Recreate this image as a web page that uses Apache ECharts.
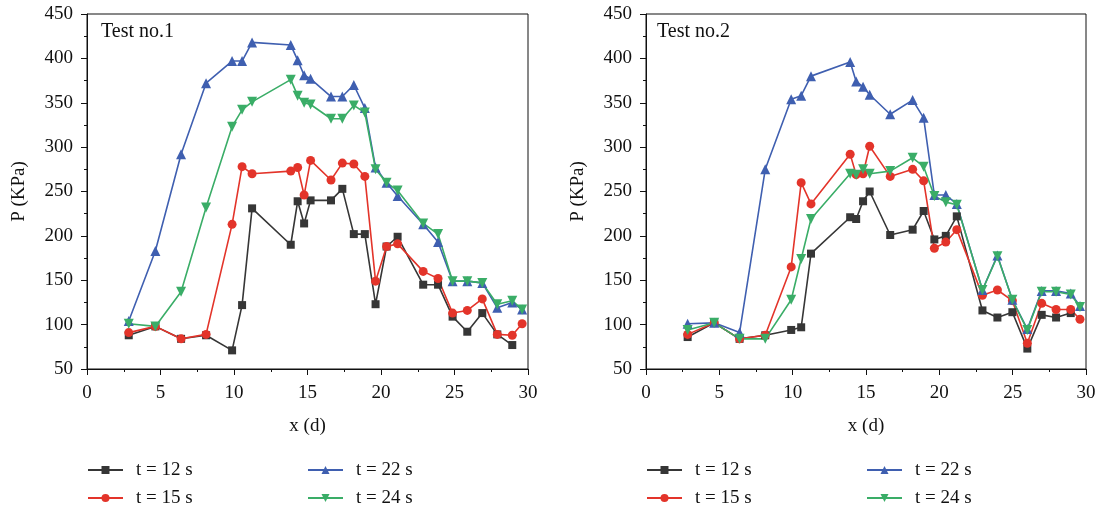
<!DOCTYPE html>
<html>
<head>
<meta charset="utf-8">
<script src="https://cdn.jsdelivr.net/npm/echarts@6/dist/echarts.min.js"></script>
<style>
  html, body { margin: 0; padding: 0; background: #fff; }
  #main { width: 1100px; height: 507px; }
</style>
</head>
<body>
<div id="main"></div>
<script>
// Test no.1 数据
var xTest1 = [2.84, 4.65, 6.4, 8.1, 9.87, 10.55, 11.23, 13.86, 14.33, 14.77, 15.21, 16.6, 17.37, 18.15, 18.9, 19.63, 20.38, 21.13, 22.87, 23.88, 24.87, 25.87, 26.89, 27.91, 28.93, 29.6];
var p12Test1 = [88, 98, 84, 88, 71, 122, 231, 190, 239, 214, 240, 240, 253, 202, 202, 123, 188, 199, 145, 145, 109, 92, 113, 89, 77, null];
var p15Test1 = [91, 98, 84, 89, 213, 278, 270, 273, 277, 246, 285, 263, 282, 281, 267, 149, 188, 191, 160, 152, 113, 116, 129, 89, 88, 101];
var p22Test1 = [104, 183, 292, 372, 397, 397, 418, 415, 398, 381, 377, 357, 357, 370, 344, 277, 260, 245, 213, 193, 149, 149, 147, 119, 125, 117];
var p24Test1 = [101, 98, 137, 232, 323, 342, 351, 376, 358, 350, 348, 332, 332, 347, 339, 275, 260, 251, 214, 202, 149, 149, 147, 123, 127, 117];

// Test no.2 数据
var xTest2 = [2.84, 4.65, 6.38, 8.13, 9.9, 10.58, 11.25, 13.92, 14.33, 14.8, 15.25, 16.65, 18.18, 18.93, 19.66, 20.44, 21.19, 22.94, 23.96, 24.98, 26.0, 26.98, 27.96, 28.96, 29.59];
var p12Test2 = [86, 102, 84, 88, 94, 97, 180, 221, 219, 239, 250, 201, 207, 228, 196, 200, 222, 116, 108, 114, 73, 111, 108, 113, null];
var p15Test2 = [89, 102, 84, 88, 165, 260, 236, 292, 269, 270, 301, 267, 275, 262, 186, 193, 207, 133, 139, 127, 79, 124, 117, 117, 106];
var p22Test2 = [101, 102, 91, 275, 354, 358, 380, 396, 374, 368, 359, 337, 353, 333, 246, 246, 236, 139, 178, 128, 95, 138, 138, 135, 121];
var p24Test2 = [94, 102, 84, 84, 128, 174, 219, 270, 269, 275, 270, 273, 288, 278, 245, 238, 235, 139, 177, 128, 94, 137, 137, 134, 120];

var seriesNames = ['t = 12 s', 't = 15 s', 't = 22 s', 't = 24 s'];
var xTicks = [0, 30, 5];      // min, max, interval
var yTicks = [50, 450, 50];

var font = '"Liberation Serif", "DejaVu Serif", serif';
var colors = ['#363636', '#e3342a', '#3f5fb0', '#3aad67'];
var symbols = ['rect', 'circle', 'triangle', 'path://M0,0 L10,0 L5,9 Z'];
var sizes = [8, 9, 10, 10];

function pairs(xs, ys) {
    var out = [];
    for (var i = 0; i < xs.length; i++) {
        out.push([xs[i], ys[i]]);
    }
    return out;
}

function makeX(idx) {
    return {
        type: 'value', gridIndex: idx,
        min: xTicks[0], max: xTicks[1], interval: xTicks[2],
        name: 'x (d)', nameLocation: 'middle', nameGap: 48,
        nameTextStyle: { fontFamily: font, fontSize: 19, color: '#111' },
        axisLine: { lineStyle: { color: '#111', width: 1 } },
        axisTick: { length: 6, lineStyle: { color: '#111' } },
        minorTick: { show: true, splitNumber: 2, length: 3, lineStyle: { color: '#111' } },
        axisLabel: { fontFamily: font, fontSize: 19, color: '#111', margin: 15 },
        splitLine: { show: false }
    };
}

function makeY(idx) {
    return {
        type: 'value', gridIndex: idx,
        min: yTicks[0], max: yTicks[1], interval: yTicks[2],
        name: 'P (KPa)', nameLocation: 'middle', nameGap: 58,
        nameTextStyle: { fontFamily: font, fontSize: 19, color: '#111' },
        axisLine: { show: true, lineStyle: { color: '#111', width: 1 } },
        axisTick: { show: true, length: 6, lineStyle: { color: '#111' } },
        minorTick: { show: true, splitNumber: 2, length: 3, lineStyle: { color: '#111' } },
        axisLabel: { fontFamily: font, fontSize: 19, color: '#111', margin: 14 },
        splitLine: { show: false }
    };
}

// 每个图例单独放一个 legend，位置好控制
function makeLegend(left, top, name) {
    return {
        left: left, top: top, orient: 'horizontal', padding: 0,
        itemWidth: 35, itemHeight: 10,
        data: [name],
        textStyle: { fontFamily: font, fontSize: 19, lineHeight: 20, color: '#111', padding: [0, 0, 0, 8] }
    };
}

var tests = [
    { x: xTest1, ys: [p12Test1, p15Test1, p22Test1, p24Test1] },
    { x: xTest2, ys: [p12Test2, p15Test2, p22Test2, p24Test2] }
];

var series = [];
tests.forEach(function (t, g) {
    t.ys.forEach(function (ys, k) {
        series.push({
            name: seriesNames[k],
            type: 'line',
            xAxisIndex: g, yAxisIndex: g,
            data: pairs(t.x, ys),
            color: colors[k],
            symbol: symbols[k],
            symbolSize: sizes[k],
            lineStyle: { width: 1.6 },
            animation: false
        });
    });
});

var legends = [];
[87, 646].forEach(function (x0) {
    legends.push(makeLegend(x0, 460, seriesNames[0]));
    legends.push(makeLegend(x0, 488, seriesNames[1]));
    legends.push(makeLegend(x0 + 220, 460, seriesNames[2]));
    legends.push(makeLegend(x0 + 220, 488, seriesNames[3]));
});

var myChart = echarts.init(document.getElementById('main'));
var option = {
    backgroundColor: '#fff',
    title: [
        { text: 'Test no.1', left: 96, top: 17, textStyle: { fontFamily: font, fontSize: 20, fontWeight: 'normal', color: '#111' } },
        { text: 'Test no.2', left: 652, top: 17, textStyle: { fontFamily: font, fontSize: 20, fontWeight: 'normal', color: '#111' } }
    ],
    grid: [
        { left: 87, top: 14, width: 441, height: 355, show: true, borderColor: '#111', borderWidth: 1 },
        { left: 646, top: 14, width: 440, height: 355, show: true, borderColor: '#111', borderWidth: 1 }
    ],
    xAxis: [makeX(0), makeX(1)],
    yAxis: [makeY(0), makeY(1)],
    legend: legends,
    series: series
};
option && myChart.setOption(option);
</script>
</body>
</html>
